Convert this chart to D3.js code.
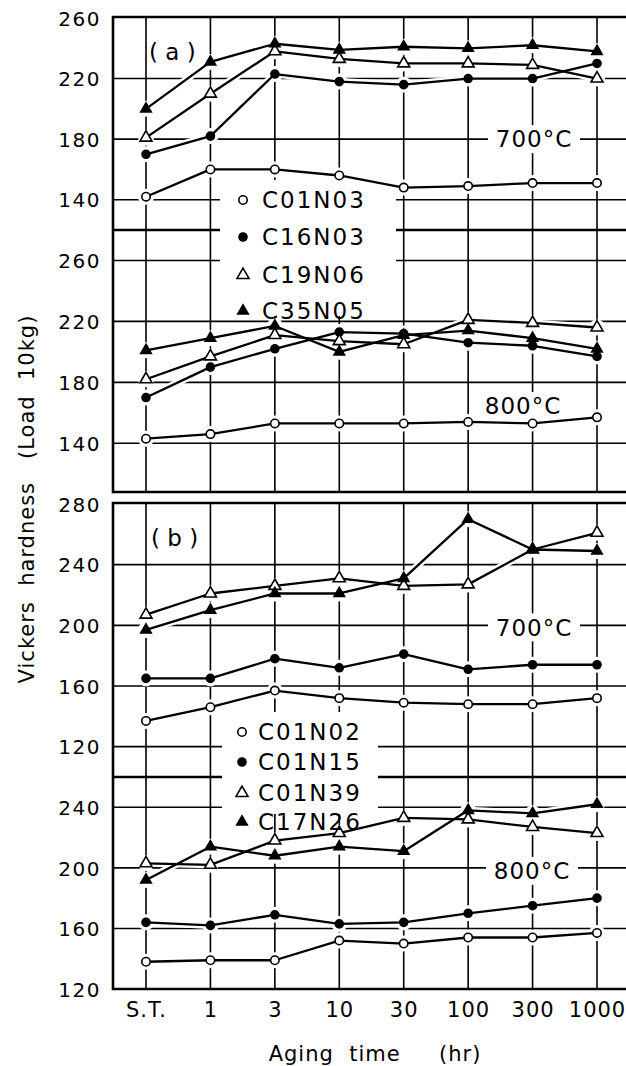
<!DOCTYPE html>
<html><head><meta charset="utf-8">
<script src="https://cdn.jsdelivr.net/npm/d3@7"></script>
<style>
html,body{margin:0;padding:0;background:#fff;}
svg{display:block;}
text{font-family:"DejaVu Sans",sans-serif;fill:#000;}
</style></head>
<body>
<svg id="c" width="626" height="1066"></svg>
<script>
// ---------- data ----------
const categories = ["S.T.", "1", "3", "10", "30", "100", "300", "1000"];

// panel (a)
const seriesA = ["C01N03", "C16N03", "C19N06", "C35N05"];
const a700_C01N03 = [142, 160, 160, 156, 148, 149, 151, 151];
const a700_C16N03 = [170, 182, 223, 218, 216, 220, 220, 230];
const a700_C19N06 = [181, 210, 238, 233, 230, 230, 229, 220];
const a700_C35N05 = [200, 231, 243, 239, 241, 240, 242, 238];
const a800_C01N03 = [143, 146, 153, 153, 153, 154, 153, 157];
const a800_C16N03 = [170, 190, 202, 213, 212, 206, 204, 197];
const a800_C19N06 = [182, 197, 211, 207, 205, 221, 219, 216];
const a800_C35N05 = [201, 209, 217, 200, 211, 214, 209, 202];

// panel (b)
const seriesB = ["C01N02", "C01N15", "C01N39", "C17N26"];
const b700_C01N02 = [137, 146, 157, 152, 149, 148, 148, 152];
const b700_C01N15 = [165, 165, 178, 172, 181, 171, 174, 174];
const b700_C01N39 = [207, 221, 226, 231, 226, 227, 250, 261];
const b700_C17N26 = [197, 210, 221, 221, 231, 270, 250, 249];
const b800_C01N02 = [138, 139, 139, 152, 150, 154, 154, 157];
const b800_C01N15 = [164, 162, 169, 163, 164, 170, 175, 180];
const b800_C01N39 = [203, 202, 218, 223, 233, 232, 227, 223];
const b800_C17N26 = [192, 214, 208, 214, 211, 238, 236, 242];

// tick labels
const ticksA700 = [140, 180, 220, 260];
const ticksA800 = [140, 180, 220, 260];
const ticksB700 = [120, 160, 200, 240, 280];
const ticksB800 = [120, 160, 200, 240];
const gridA700 = [140, 180, 220];
const gridA800 = [140, 180, 220, 260];
const gridB700 = [120, 160, 200, 240];
const gridB800 = [160, 200, 240];

const markerKinds = ["openCircle", "filledCircle", "openTriangle", "filledTriangle"];

// ---------- layout ----------
const svg = d3.select("#c");
const xL = 113, xR = 640;
const x = d3.scalePoint().domain(categories).range([146, 597]);

const yA700 = d3.scaleLinear().domain([120, 260]).range([230, 18]);
const yA800 = d3.scaleLinear().domain([108, 280]).range([492, 230]);
const yB700 = d3.scaleLinear().domain([100, 280]).range([777, 504]);
const yB800 = d3.scaleLinear().domain([120, 260]).range([989, 777]);

const panels = [
  {y: yA700, grid: gridA700, ticks: ticksA700, names: seriesA,
   data: [a700_C01N03, a700_C16N03, a700_C19N06, a700_C35N05]},
  {y: yA800, grid: gridA800, ticks: ticksA800, names: seriesA,
   data: [a800_C01N03, a800_C16N03, a800_C19N06, a800_C35N05]},
  {y: yB700, grid: gridB700, ticks: ticksB700, names: seriesB,
   data: [b700_C01N02, b700_C01N15, b700_C01N39, b700_C17N26]},
  {y: yB800, grid: gridB800, ticks: ticksB800, names: seriesB,
   data: [b800_C01N02, b800_C01N15, b800_C01N39, b800_C17N26]},
];

const gGrid = svg.append("g");
const gBoxes = svg.append("g");
const gHalo = svg.append("g");
const gLines = svg.append("g");
const gMarks = svg.append("g");
const gText = svg.append("g");

// vertical grid lines per big panel
const bigPanels = [{top: 17, bottom: 492}, {top: 503, bottom: 989}];
bigPanels.forEach(bp => {
  gGrid.selectAll(null).data(categories).enter().append("line")
    .attr("x1", d => x(d)).attr("x2", d => x(d))
    .attr("y1", bp.top).attr("y2", bp.bottom)
    .attr("stroke", "#000").attr("stroke-width", 1.6);
});

// horizontal grid lines + y tick labels
panels.forEach(p => {
  gGrid.selectAll(null).data(p.grid).enter().append("line")
    .attr("x1", xL).attr("x2", xR)
    .attr("y1", d => p.y(d)).attr("y2", d => p.y(d))
    .attr("stroke", "#000").attr("stroke-width", 1.6);
  const ax = d3.axisLeft(p.y).tickValues(p.ticks).tickSize(0).tickPadding(12);
  const g = gText.append("g").attr("transform", `translate(${xL},0)`).call(ax);
  g.select(".domain").remove();
  g.selectAll("text").attr("font-size", 20).attr("font-family", "DejaVu Sans")
    .style("letter-spacing", "1.5px").attr("dy", "0.36em");
});

// frames and separators
bigPanels.forEach(bp => {
  gGrid.append("path")
    .attr("d", `M${xR},${bp.top}H${xL}V${bp.bottom}H${xR}`)
    .attr("fill", "none").attr("stroke", "#000").attr("stroke-width", 2.6);
});
[230, 777].forEach(yy => {
  gGrid.append("line").attr("x1", xL).attr("x2", xR).attr("y1", yy).attr("y2", yy)
    .attr("stroke", "#000").attr("stroke-width", 2.4);
});

// legend boxes (white) cover grid
gBoxes.append("rect").attr("x", 220).attr("y", 180).attr("width", 176).attr("height", 136).attr("fill", "#fff");
gBoxes.append("rect").attr("x", 222).attr("y", 712).attr("width", 156).attr("height", 102).attr("fill", "#fff");

// temperature labels with white backing
const tempLabels = [
  {t: "700°C", cx: 534, cy: yA700(180)},
  {t: "800°C", cx: 523, cy: 406},
  {t: "700°C", cx: 534, cy: yB700(200) + 2},
  {t: "800°C", cx: 532, cy: yB800(200) + 3},
];
tempLabels.forEach(l => {
  gBoxes.append("rect").attr("x", l.cx - 46).attr("y", l.cy - 14).attr("width", 92).attr("height", 28).attr("fill", "#fff");
  gText.append("text").attr("x", l.cx).attr("y", l.cy).attr("dy", "0.36em")
    .attr("text-anchor", "middle").attr("font-size", 23).style("letter-spacing", "1px").text(l.t);
});

// marker drawing
function drawMarker(g, kind, cx, cy) {
  if (kind === "openCircle" || kind === "filledCircle") {
    g.append("circle").attr("cx", cx).attr("cy", cy).attr("r", kind === "openCircle" ? 4.2 : 4)
      .attr("fill", kind === "openCircle" ? "#fff" : "#000")
      .attr("stroke", "#000").attr("stroke-width", 1.6);
  } else {
    const open = kind === "openTriangle";
    const sym = d3.symbol().type(d3.symbolTriangle).size(open ? 62 : 48);
    g.append("path").attr("d", sym()).attr("transform", `translate(${cx},${cy})`)
      .attr("fill", open ? "#fff" : "#000").attr("stroke", "#000").attr("stroke-width", 1.6)
      .attr("stroke-linejoin", "miter");
  }
}

// series lines, halos, markers
const line = d3.line();
panels.forEach(p => {
  p.data.forEach((vals, si) => {
    const pts = vals.map((v, i) => [x(categories[i]), p.y(v)]);
    gHalo.append("path").attr("d", line(pts)).attr("fill", "none")
      .attr("stroke", "#fff").attr("stroke-width", 7).attr("stroke-linejoin", "round");
    gLines.append("path").attr("d", line(pts)).attr("fill", "none")
      .attr("stroke", "#000").attr("stroke-width", 2.3).attr("stroke-linejoin", "round");
    pts.forEach(pt => {
      gHalo.append("circle").attr("cx", pt[0]).attr("cy", pt[1]).attr("r", 8).attr("fill", "#fff");
      drawMarker(gMarks, markerKinds[si], pt[0], pt[1]);
    });
  });
});

// legends
const legends = [
  {names: seriesA, sx: 243, tx: 262, ys: [200, 237, 275, 311]},
  {names: seriesB, sx: 242, tx: 258, ys: [732, 762, 793, 822]},
];
legends.forEach(L => {
  L.names.forEach((n, i) => {
    drawMarker(gText, markerKinds[i], L.sx, L.ys[i]);
    gText.append("text").attr("x", L.tx).attr("y", L.ys[i]).attr("dy", "0.36em")
      .attr("font-size", 23).style("letter-spacing", "2px").text(n);
  });
});

// panel tags
gText.append("text").attr("x", 149).attr("y", 52).attr("dy", "0.36em")
  .attr("font-size", 23).style("white-space", "pre").text("( a )");
gText.append("text").attr("x", 151).attr("y", 538).attr("dy", "0.36em")
  .attr("font-size", 23).style("white-space", "pre").text("( b )");

// x axis labels
const xAxis = d3.axisBottom(x).tickSize(0).tickPadding(13);
const gx = gText.append("g").attr("transform", "translate(0,989)").call(xAxis);
gx.select(".domain").remove();
gx.selectAll("text").attr("font-size", 21).attr("font-family", "DejaVu Sans").style("letter-spacing", "1px");

// axis titles
gText.append("text").attr("x", 375).attr("y", 1053).attr("dy", "0.36em")
  .attr("text-anchor", "middle").attr("font-size", 21).style("white-space", "pre")
  .style("letter-spacing", "1px").text("Aging  time     (hr)");
gText.append("text").attr("transform", "translate(26,499) rotate(-90)").attr("dy", "0.36em")
  .attr("text-anchor", "middle").attr("font-size", 21).style("white-space", "pre")
  .style("letter-spacing", "1px").text("Vickers  hardness   (Load  10kg)");
</script>
</body></html>
